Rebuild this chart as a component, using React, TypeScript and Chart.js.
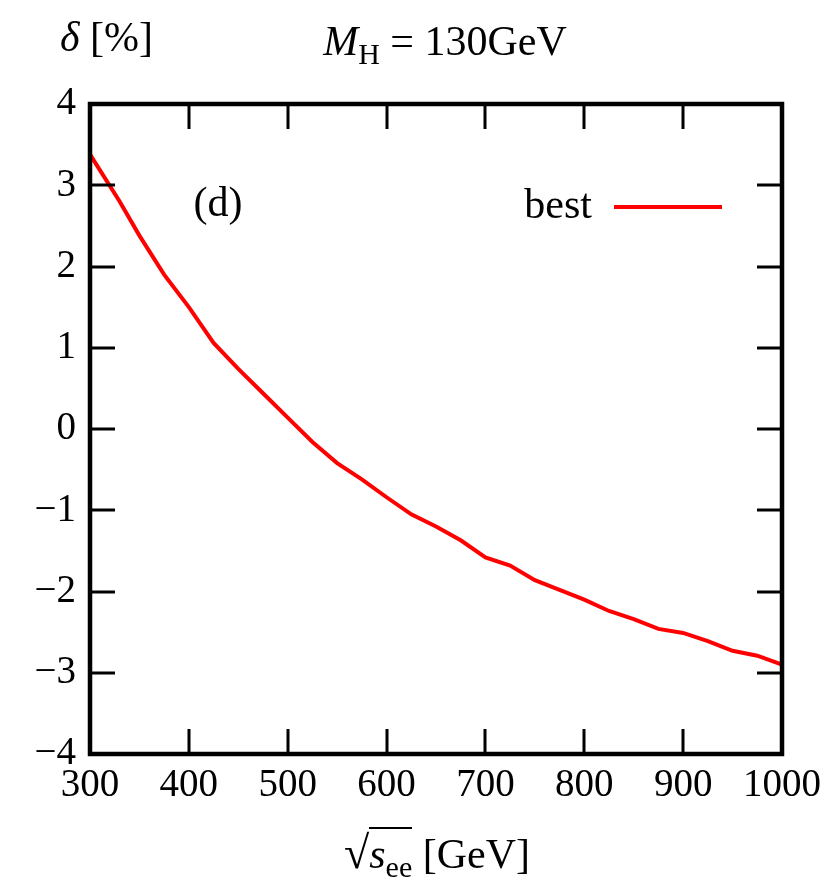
import React, { useEffect, useRef } from 'react';
import { Chart, registerables } from 'chart.js';

Chart.register(...registerables);

// ---- data ----
const energies = [300, 330, 350, 375, 400, 425, 450, 475, 500, 525, 550, 575, 600, 625, 650, 675, 700, 725, 750, 775, 800, 825, 850, 875, 900, 925, 950, 975, 1000];
const deltaBest = [3.38, 2.8, 2.38, 1.9, 1.5, 1.06, 0.74, 0.44, 0.14, -0.16, -0.42, -0.62, -0.84, -1.05, -1.2, -1.37, -1.58, -1.68, -1.86, -1.98, -2.1, -2.24, -2.34, -2.46, -2.51, -2.61, -2.73, -2.79, -2.9];
const xTicks = [300, 400, 500, 600, 700, 800, 900, 1000];
const yTicks = [-4, -3, -2, -1, 0, 1, 2, 3, 4];
const seriesLabel = 'best';
const panelLabel = '(d)';

const FONT = '"Liberation Serif", "DejaVu Serif", serif';

const framePlugin = {
  id: 'frame',
  afterDatasetsDraw(chart: any) {
    const { ctx, chartArea, scales } = chart;
    const { left, right, top, bottom } = chartArea;
    const xs = scales.x;
    const ys = scales.y;
    ctx.save();
    ctx.strokeStyle = '#000';
    ctx.lineWidth = 3;
    ctx.beginPath();
    xTicks.forEach((v) => {
      const px = Math.round(xs.getPixelForValue(v));
      ctx.moveTo(px, bottom);
      ctx.lineTo(px, bottom - 25);
      ctx.moveTo(px, top);
      ctx.lineTo(px, top + 25);
    });
    yTicks.forEach((v) => {
      const py = Math.round(ys.getPixelForValue(v));
      ctx.moveTo(left, py);
      ctx.lineTo(left + 25, py);
      ctx.moveTo(right, py);
      ctx.lineTo(right - 25, py);
    });
    ctx.stroke();
    ctx.lineWidth = 4.5;
    ctx.strokeRect(left, top, right - left, bottom - top);

    // panel label
    ctx.fillStyle = '#000';
    ctx.font = `42px ${FONT}`;
    ctx.textBaseline = 'middle';
    ctx.textAlign = 'center';
    ctx.fillText(panelLabel, 218, 205);

    // legend
    ctx.textAlign = 'right';
    ctx.fillText(seriesLabel, 592, 207);
    ctx.strokeStyle = 'rgb(255,0,0)';
    ctx.lineWidth = 4;
    ctx.beginPath();
    ctx.moveTo(614, 207);
    ctx.lineTo(722, 207);
    ctx.stroke();
    ctx.restore();
  },
};

export default function App() {
  const ref = useRef<HTMLCanvasElement>(null);

  useEffect(() => {
    if (!ref.current) return;
    const chart = new Chart(ref.current, {
      type: 'line',
      data: {
        datasets: [
          {
            label: seriesLabel,
            data: energies.map((e, i) => ({ x: e, y: deltaBest[i] })),
            borderColor: 'rgb(255,0,0)',
            borderWidth: 4,
            pointRadius: 0,
            tension: 0,
            fill: false,
          },
        ],
      },
      options: {
        responsive: false,
        animation: false,
        layout: { padding: { top: 104, right: 48, left: 0, bottom: 0 } },
        plugins: { legend: { display: false }, tooltip: { enabled: false } },
        scales: {
          x: {
            type: 'linear',
            min: 300,
            max: 1000,
            afterBuildTicks: (s: any) => {
              s.ticks = xTicks.map((v) => ({ value: v }));
            },
            afterFit: (s: any) => {
              s.height = 128;
            },
            grid: { display: false, drawTicks: false },
            border: { display: false },
            ticks: {
              padding: 8,
              color: '#000',
              font: { family: FONT, size: 39 },
              maxRotation: 0,
              autoSkip: false,
              callback: (v: any) => String(v),
            },
          },
          y: {
            type: 'linear',
            min: -4,
            max: 4,
            afterBuildTicks: (s: any) => {
              s.ticks = yTicks.map((v) => ({ value: v }));
            },
            afterFit: (s: any) => {
              s.width = 90;
            },
            grid: { display: false, drawTicks: false },
            border: { display: false },
            ticks: {
              padding: 14,
              color: '#000',
              font: { family: FONT, size: 39 },
              autoSkip: false,
              callback: (v: any) => (v < 0 ? '\u2212' + Math.abs(v) : String(v)),
            },
          },
        },
      },
      plugins: [framePlugin],
    } as any);
    return () => chart.destroy();
  }, []);

  const textStyle: React.CSSProperties = {
    position: 'absolute',
    fontFamily: FONT,
    fontSize: 42,
    color: '#000',
    whiteSpace: 'nowrap',
    lineHeight: 1,
  };

  return (
    <div style={{ position: 'fixed', left: 0, top: 0, width: 830, height: 882, background: '#fff' }}>
      <canvas ref={ref} width={830} height={882} style={{ position: 'absolute', left: 0, top: 0 }} />
      <div style={{ ...textStyle, left: 60, top: 16 }}>
        <i>δ</i> [%]
      </div>
      <div style={{ ...textStyle, left: 445, top: 20, transform: 'translateX(-50%)' }}>
        <i>M</i>
        <span style={{ fontSize: 30, verticalAlign: -9 }}>H</span> = 130GeV
      </div>
      <div style={{ ...textStyle, left: 437, top: 830, transform: 'translateX(-50%)' }}>
        <span style={{ fontSize: 46 }}>√</span>
        <span style={{ borderTop: '2px solid #000', paddingTop: 2 }}>
          <i>s</i>
          <span style={{ fontSize: 30, verticalAlign: -9 }}>ee</span>
        </span>{' '}
        [GeV]
      </div>
    </div>
  );
}
